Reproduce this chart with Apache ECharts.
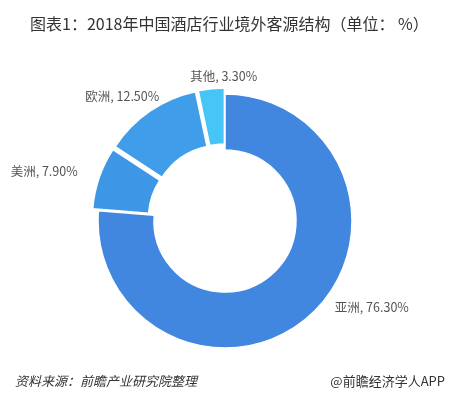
<!DOCTYPE html>
<html>
<head>
<meta charset="utf-8">
<script src="https://cdn.jsdelivr.net/npm/echarts@6/dist/echarts.min.js"></script>
<style>
html,body{margin:0;padding:0;background:#fff;}
#c{width:453px;height:396px;}
</style>
</head>
<body>
<div id="c"></div>
<script>
var titleText = '图表1：2018年中国酒店行业境外客源结构（单位： %）';
var sourceText = '资料来源：前瞻产业研究院整理';
var brandText = '@前瞻经济学人APP';
var categories = ['亚洲', '美洲', '欧洲', '其他'];
var values = [76.3, 7.9, 12.5, 3.3];
var colors = ['#4187e0', '#3d97e6', '#3f9de9', '#46c6f6'];
var exploded = [false, true, true, true];
// label nudges (style only)
var labelNudge = [[2, -14], [3, -3], [30, -7], [62, -3]];

var chart = echarts.init(document.getElementById('c'), null, {renderer: 'canvas'});
var font = '"Noto Sans CJK SC", "Microsoft YaHei", sans-serif';

var data = categories.map(function (c, i) {
  return {
    name: c,
    value: values[i],
    selected: exploded[i],
    itemStyle: {color: colors[i]},
    select: {itemStyle: {color: colors[i]}}
  };
});

chart.setOption({
  backgroundColor: '#ffffff',
  animation: false,
  title: [
    {text: titleText, left: 25, top: 11,
     textStyle: {fontFamily: font, fontSize: 16, fontWeight: 'normal', color: '#333333'}},
    {text: sourceText, left: 10, top: 370,
     textStyle: {fontFamily: font, fontSize: 13, fontWeight: 'normal', fontStyle: 'italic', color: '#333333'}},
    {text: brandText, right: 3, top: 370,
     textStyle: {fontFamily: font, fontSize: 13, fontWeight: 'normal', color: '#333333'}}
  ],
  series: [{
    type: 'pie',
    center: [225, 221],
    radius: [71, 127],
    startAngle: 90,
    clockwise: true,
    selectedMode: 'multiple',
    selectedOffset: 6,
    itemStyle: {borderColor: '#ffffff', borderWidth: 1.5},
    emphasis: {disabled: true},
    label: {
      show: true,
      position: 'outside',
      fontFamily: font,
      fontSize: 12.5,
      color: '#555555',
      formatter: function (p) { return p.name + ', ' + p.value.toFixed(2) + '%'; }
    },
    labelLine: {show: false, length: 10, length2: 10},
    labelLayout: function (p) {
      var n = labelNudge[p.dataIndex];
      return {dx: n[0], dy: n[1]};
    },
    data: data
  }]
});
</script>
</body>
</html>
